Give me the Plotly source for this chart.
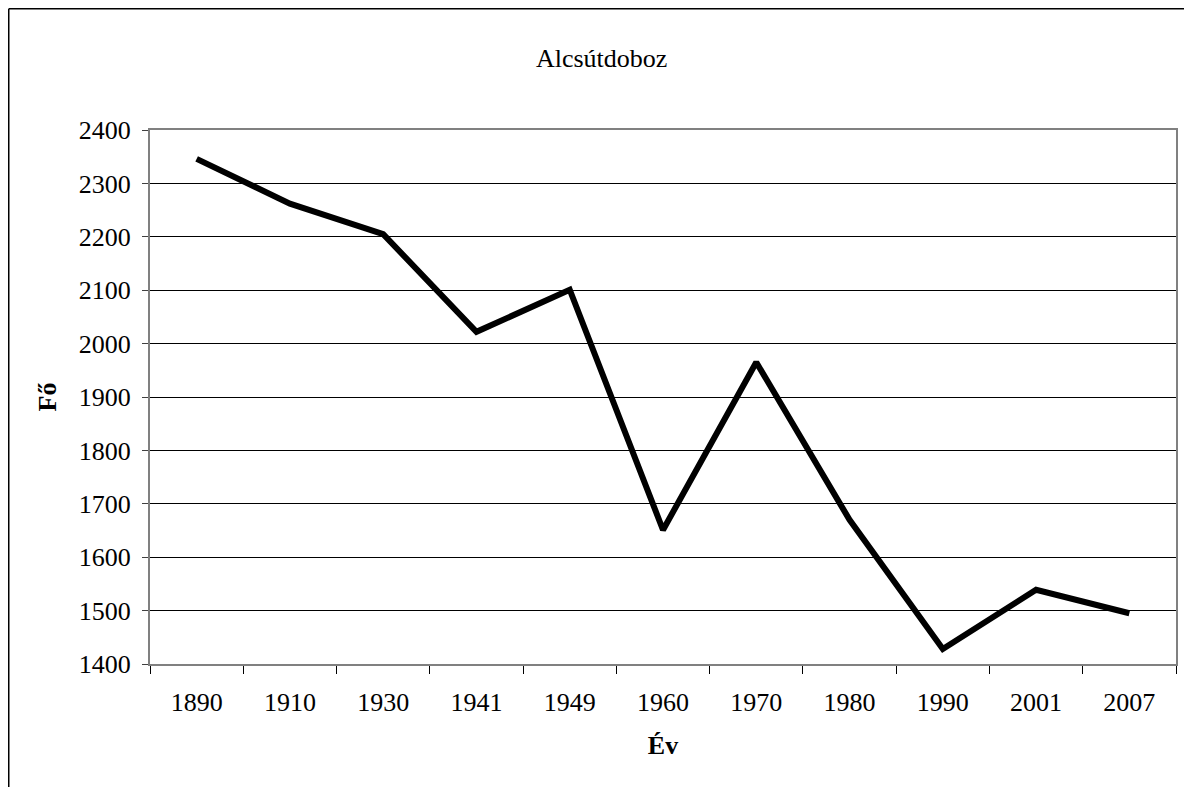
import plotly.graph_objects as go

years = ["1890", "1910", "1930", "1941", "1949", "1960", "1970", "1980", "1990", "2001", "2007"]
population = [2346, 2262, 2205, 2022, 2101, 1651, 1965, 1670, 1428, 1539, 1495]
y_ticks = [1400, 1500, 1600, 1700, 1800, 1900, 2000, 2100, 2200, 2300, 2400]

FONT = "Liberation Serif, Times New Roman, serif"
L, R, T, B = 142, 24, 122, 131
PW, PH = 1192 - L - R, 787 - T - B

fig = go.Figure()
fig.add_trace(go.Scatter(
    x=years, y=population, mode="lines",
    line=dict(color="black", width=6),
    hoverinfo="x+y", showlegend=False,
))

fig.update_layout(
    width=1192, height=787,
    margin=dict(l=L, r=R, t=T, b=B),
    paper_bgcolor="white", plot_bgcolor="white",
    font=dict(family=FONT, size=26, color="black"),
    title=dict(text="Alcsútdoboz", x=0.498, xanchor="center",
               y=1 - 50 / 787, yanchor="middle",
               font=dict(family=FONT, size=26, color="black")),
    xaxis=dict(
        type="category", tickson="boundaries", ticks="outside", ticklen=8,
        range=[-0.5, len(years) - 0.5],
        tickcolor="black", tickwidth=1, showgrid=False,
        showline=True, linecolor="#808080", linewidth=2, mirror=True,
        ticklabelstandoff=14,
        title=dict(text="<b>Év</b>", standoff=20, font=dict(family=FONT, size=26)),
    ),
    yaxis=dict(
        range=[1400, 2400], tickvals=y_ticks, ticks="outside", ticklen=6,
        tickcolor="#404040", showgrid=True, gridcolor="black", gridwidth=1,
        showline=True, linecolor="#808080", linewidth=2, mirror=True,
        zeroline=False, ticklabelstandoff=6,
        title=dict(text="<b>Fő</b>", standoff=15, font=dict(family=FONT, size=26)),
    ),
)

# outer chart-area border (left and top edges of the chart area)
bx = (0.75 - L) / PW
by = (787 - B - 0.75) / PH
fig.add_shape(type="line", xref="paper", yref="paper",
              x0=bx, x1=bx, y0=-(B + 10) / PH, y1=by,
              line=dict(color="black", width=1.5))
fig.add_shape(type="line", xref="paper", yref="paper",
              x0=bx, x1=(PW + R + 10) / PW, y0=by, y1=by,
              line=dict(color="black", width=1.5))

fig.write_html("out.html")
